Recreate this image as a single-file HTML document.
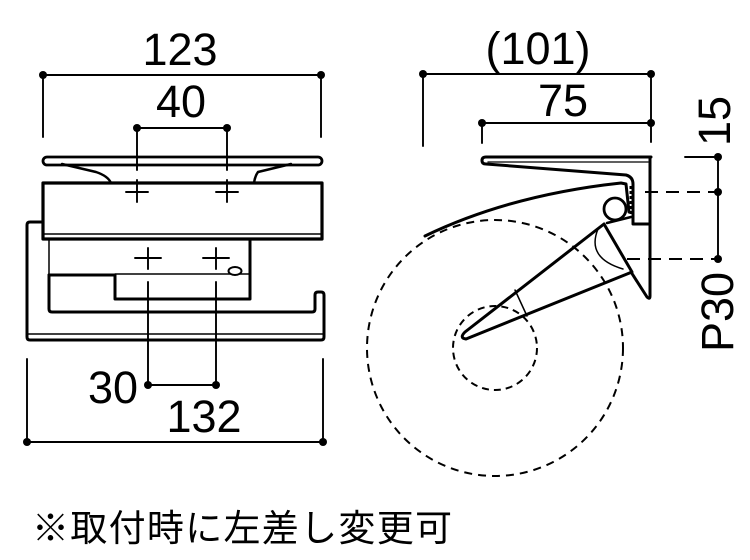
<!DOCTYPE html>
<html><head><meta charset="utf-8"><style>
html,body{margin:0;padding:0;background:#fff;}
svg{display:block;}
text{font-family:"Liberation Sans","Noto Sans CJK JP",sans-serif;fill:#000;}
</style></head><body>
<svg width="750" height="560" viewBox="0 0 750 560" xmlns="http://www.w3.org/2000/svg">
<g fill="none" stroke="#000" stroke-linecap="round" stroke-linejoin="round">
<!-- LEFT VIEW dims -->
<g stroke-width="1.9">
<line x1="43" y1="75" x2="321" y2="75"/>
<line x1="43" y1="75" x2="43" y2="137"/>
<line x1="321" y1="75" x2="321" y2="137"/>
<line x1="137" y1="128" x2="227" y2="128"/>
<line x1="137" y1="128" x2="137" y2="170"/>
<line x1="227" y1="128" x2="227" y2="170"/>
<line x1="148" y1="385" x2="216" y2="385"/>
<line x1="148" y1="282" x2="148" y2="385"/>
<line x1="216" y1="282" x2="216" y2="385"/>
<line x1="27" y1="442" x2="323" y2="442"/>
<line x1="27" y1="359" x2="27" y2="442"/>
<line x1="323" y1="359" x2="323" y2="442"/>
<!-- crosses -->
<line x1="126" y1="192" x2="148" y2="192"/><line x1="137" y1="180" x2="137" y2="202"/>
<line x1="216" y1="192" x2="238" y2="192"/><line x1="227" y1="180" x2="227" y2="202"/>
<line x1="135" y1="258" x2="161" y2="258"/><line x1="148" y1="248" x2="148" y2="269"/>
<line x1="203" y1="258" x2="229" y2="258"/><line x1="216" y1="248" x2="216" y2="269"/>
</g>
<!-- plate -->
<rect x="43" y="157" width="279" height="8" rx="4" stroke-width="2.8"/>
<path d="M62 164 L96 172 Q108 176 111 183" stroke-width="2.5"/>
<path d="M291 164 L258 172 Q255 176 254 183" stroke-width="2.5"/>
<!-- box -->
<rect x="43" y="183" width="279" height="56" stroke-width="3.2"/>
<line x1="43" y1="234" x2="322" y2="234" stroke-width="1.5"/>
<!-- under block -->
<line x1="49" y1="239" x2="49" y2="275" stroke-width="1.5"/>
<line x1="115" y1="274" x2="250" y2="274" stroke-width="1.5"/>
<path d="M250 239 L250 299 L115 299 L115 275 L49 275" stroke-width="3"/>
<ellipse cx="235" cy="271" rx="6.5" ry="4" stroke-width="2" fill="#fff"/>
<!-- bracket -->
<path d="M43 222 L30 222 Q27 222 27 225 L27 337 Q27 340 30 340 L321 340 Q324 340 324 337 L324 295 Q324 292 321 292 L318 292 Q315 292 315 295 L315 309 Q315 312 312 312 L52 312 Q49 312 49 309 L49 275" stroke-width="3"/>
<line x1="28" y1="334" x2="323" y2="334" stroke-width="1.5"/>

<!-- RIGHT VIEW dims -->
<g stroke-width="1.9">
<line x1="423" y1="74" x2="651" y2="74"/>
<line x1="423" y1="74" x2="423" y2="146"/>
<line x1="651" y1="74" x2="651" y2="142"/>
<line x1="482" y1="123" x2="651" y2="123"/>
<line x1="482" y1="123" x2="482" y2="143"/>
<line x1="718" y1="157" x2="718" y2="259"/>
<line x1="685" y1="157" x2="718" y2="157"/>
<line x1="645" y1="192" x2="718" y2="192" stroke-dasharray="13 8" stroke-linecap="butt"/>
<line x1="627" y1="259" x2="718" y2="259" stroke-dasharray="13 8" stroke-linecap="butt"/>
</g>
<!-- dashed circles -->
<circle cx="495" cy="348" r="128" stroke-width="2" stroke-dasharray="8 6" stroke-linecap="butt"/>
<circle cx="495" cy="348" r="42" stroke-width="2" stroke-dasharray="7 5" stroke-linecap="butt"/>
<!-- plate & wall -->
<path d="M651 157 L486 157 Q482 157 482 160.5 Q482 164 486 164 L626 175 Q633 177 633 184 L633 224 L650 224" stroke-width="3"/>
<line x1="488" y1="162" x2="648" y2="162" stroke-width="1.3"/>
<path d="M650 157 L650 296 Q650 300 647 297 L631 272" stroke-width="3"/>
<!-- cover -->
<path d="M425 236 Q510 195 621 183 L626 184 L629 212" stroke-width="3"/>
<line x1="630.5" y1="186" x2="630.5" y2="216" stroke-width="2" stroke-dasharray="3 2" stroke-linecap="butt"/>
<!-- knob -->
<circle cx="615" cy="209" r="11" stroke-width="2.8"/>
<line x1="607" y1="223" x2="631" y2="217" stroke-width="2.5"/>
<!-- cone -->
<path d="M604 224 L465 332 Q459 338 466 339 L632 272 L604 224" stroke-width="3"/>
<path d="M598 229 Q586 258 623 269" stroke-width="1.5"/>
<line x1="515" y1="290" x2="527" y2="316" stroke-width="1.5"/>
<!-- dots -->
<g fill="#000" stroke="none">
<circle cx="43" cy="75" r="4"/><circle cx="321" cy="75" r="4"/>
<circle cx="137" cy="128" r="4"/><circle cx="227" cy="128" r="4"/>
<circle cx="148" cy="385" r="4"/><circle cx="216" cy="385" r="4"/>
<circle cx="27" cy="442" r="4"/><circle cx="323" cy="442" r="4"/>
<circle cx="423" cy="74" r="4"/><circle cx="651" cy="74" r="4"/>
<circle cx="482" cy="123" r="4"/><circle cx="651" cy="123" r="4"/>
<circle cx="718" cy="157" r="4"/><circle cx="718" cy="192" r="4"/><circle cx="718" cy="259" r="4"/>
</g>
</g>
<!-- labels -->
<g font-size="45" text-anchor="middle">
<text x="180" y="65">123</text>
<text x="181" y="117">40</text>
<text x="113" y="403">30</text>
<text x="204" y="432">132</text>
<text x="538" y="64">(101)</text>
<text x="563" y="116">75</text>
<text transform="translate(730,121) rotate(-90)">15</text>
<text transform="translate(733,312) rotate(-90)">P30</text>
</g>
<text x="32" y="541" font-size="37" letter-spacing="1.3">※取付時に左差し変更可</text>
</svg>
</body></html>
